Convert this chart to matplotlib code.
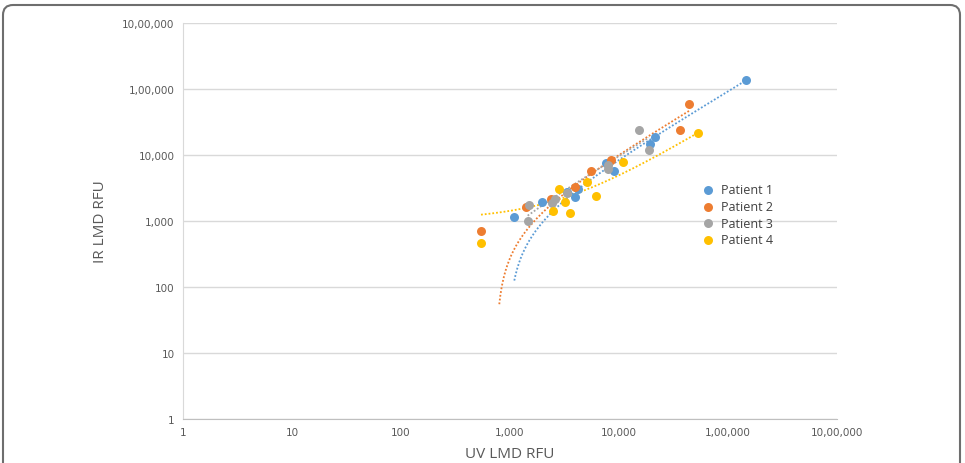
#!/usr/bin/env python3
# -*- coding: utf-8 -*-
import numpy as np
import matplotlib
matplotlib.use('Agg')
import matplotlib.pyplot as plt
from matplotlib.patches import FancyBboxPatch
from matplotlib.ticker import FixedLocator, FuncFormatter
from matplotlib.transforms import IdentityTransform

# values (UV LMD RFU, IR LMD RFU)
p1_uv = [1095, 1967, 3947, 4207, 3334, 7520, 9060, 19360, 21400, 146300]
p1_ir = [1138, 1940, 2286, 3055, 2750, 7565, 5820, 14930, 19060, 135500]

p2_uv = [542, 1393, 2377, 3947, 5500, 8390, 36300, 44200]
p2_ir = [698, 1614, 2118, 3243, 5660, 8460, 23900, 58600]

p3_uv = [1452, 1503, 2588, 2414, 3334, 7980, 7870, 15350, 18840]
p3_ir = [1011, 1747, 2154, 1875, 2656, 7050, 6030, 23900, 12030]

p4_uv = [542, 2497, 2833, 3198, 3550, 5140, 6150, 10960, 53450]
p4_ir = [459, 1432, 3055, 1960, 1345, 3855, 2416, 7750, 21500]

labels = ["Patient 1", "Patient 2", "Patient 3", "Patient 4"]
colors = ["#5B9BD5", "#ED7D31", "#A5A5A5", "#FFC000"]
ticks = [1, 10, 100, 1000, 10000, 100000, 1000000]


def indian_fmt(v, pos=None):
    # 10,00,000 style grouping
    s = str(int(round(v)))
    if len(s) <= 3:
        return s
    head, tail = s[:-3], s[-3:]
    groups = []
    while len(head) > 2:
        groups.insert(0, head[-2:])
        head = head[:-2]
    if head:
        groups.insert(0, head)
    return ",".join(groups + [tail])


def trend(ax, x, y, color):
    # linear least squares trendline, drawn on the log axes
    a, b = np.polyfit(x, y, 1)
    xs = np.geomspace(min(x), max(x), 400)
    ys = a * xs + b
    keep = ys >= 50
    ax.plot(xs[keep], ys[keep], linestyle=(0, (1, 1.1)), color=color,
            linewidth=1.3, zorder=2)


def main():
    fig = plt.figure(figsize=(9.65, 4.64), dpi=100)
    ax = fig.add_axes([183 / 965, 1 - 420 / 464, 654 / 965, 396 / 464])
    ax.set_xscale('log')
    ax.set_yscale('log')
    ax.set_xlim(1, 1e6)
    ax.set_ylim(1, 1e6)

    series = [(p1_uv, p1_ir), (p2_uv, p2_ir), (p3_uv, p3_ir), (p4_uv, p4_ir)]
    for (x, y), lab, c in zip(series, labels, colors):
        ax.scatter(x, y, s=42, color=c, label=lab, zorder=3, linewidths=0)
    for (x, y), c in zip(series, colors):
        trend(ax, x, y, c)

    for axis in (ax.xaxis, ax.yaxis):
        axis.set_major_locator(FixedLocator(ticks))
        axis.set_major_formatter(FuncFormatter(indian_fmt))
        axis.set_minor_locator(FixedLocator([]))
    ax.tick_params(length=0, labelsize=7.5, labelcolor="#595959", pad=6)
    ax.grid(axis='y', color="#D9D9D9", linewidth=1)
    ax.set_axisbelow(True)
    for side in ('top', 'right'):
        ax.spines[side].set_visible(False)
    ax.spines['left'].set_color("#D9D9D9")
    ax.spines['bottom'].set_color("#BFBFBF")

    ax.set_xlabel("UV LMD RFU", fontsize=11, color="#595959",
                  family="Open Sans", labelpad=6)
    ax.set_ylabel("IR LMD RFU", fontsize=11, color="#595959",
                  family="Open Sans", labelpad=10)

    leg = ax.legend(loc='center left', bbox_to_anchor=(0.782, 0.516),
                    frameon=False, handletextpad=0.45,
                    labelspacing=0.3, borderpad=0, handlelength=1.2,
                    prop={'family': 'Open Sans', 'size': 9})
    for t in leg.get_texts():
        t.set_color("#404040")

    frame = FancyBboxPatch((3, -30), 957, 488, boxstyle="round,pad=0,rounding_size=10",
                           transform=IdentityTransform(), facecolor='none',
                           edgecolor="#6E6E6E", linewidth=1.5)
    fig.patches.append(frame)

    fig.savefig("out.png", dpi=100)


if __name__ == '__main__':
    main()
